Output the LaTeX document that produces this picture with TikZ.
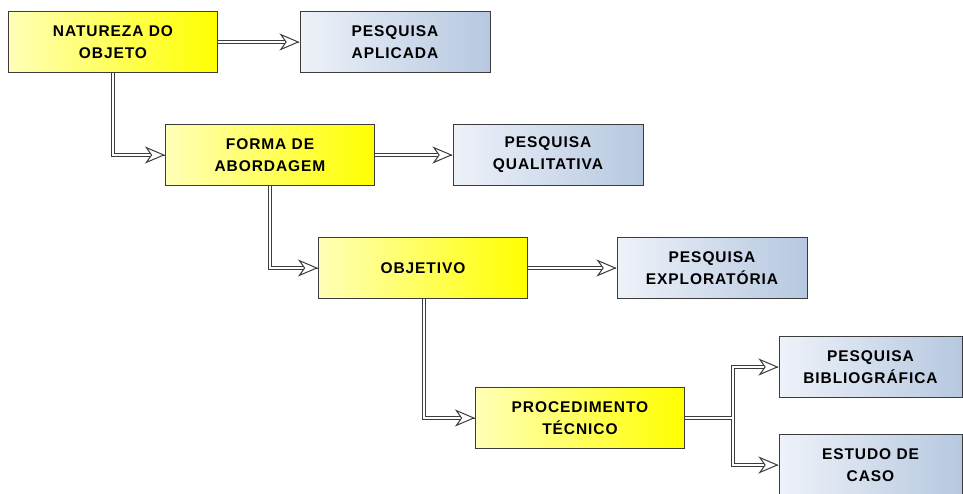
\documentclass[tikz,border=0pt]{standalone}
\usepackage{fontspec}
\setmainfont{Liberation Sans}[LetterSpace=6]
\usetikzlibrary{arrows.meta,calc,positioning}
\definecolor{edgegray}{HTML}{3C3C3C}
\definecolor{stagelight}{HTML}{FFFFB8}
\definecolor{stagedark}{HTML}{FFFF00}
\definecolor{typelight}{HTML}{EEF2F9}
\definecolor{typedark}{HTML}{B6C8E0}

\tikzset{
    stagebox/.style={draw=edgegray, line width=1pt, left color=stagelight, right color=stagedark,
        minimum width=209pt, minimum height=61pt, align=center, inner sep=0pt,
        font=\fontsize{15.5}{22}\selectfont\bfseries},
    typebox/.style={draw=edgegray, line width=1pt, left color=typelight, right color=typedark,
        minimum width=190pt, minimum height=61pt, align=center, inner sep=0pt,
        font=\fontsize{15.5}{22}\selectfont\bfseries},
    link/.style={draw=edgegray, line width=1pt, double=white, double distance=2pt, shorten >=13pt},
    linktip/.style={-{Stealth[length=20pt, width=17pt, inset=6pt, fill=white]}, draw=edgegray, line width=1pt}
}

\begin{document}
\begin{tikzpicture}[x=1pt,y=-1pt]
    \useasboundingbox[fill=white] (0,0) rectangle (963,493);

    % stages on the left
    \node[stagebox] (natureza) at (113,42) {NATUREZA DO\\OBJETO};
    \node[stagebox] (forma) at (270,155) {FORMA DE\\ABORDAGEM};
    \node[stagebox] (objetivo) at (423,268) {OBJETIVO};
    \node[stagebox] (procedimento) at (580,418) {PROCEDIMENTO\\TÉCNICO};

    % chosen types on the right
    \node[typebox] (aplicada) at (395,42) {PESQUISA\\APLICADA};
    \node[typebox] (qualitativa) at (548,155) {PESQUISA\\QUALITATIVA};
    \node[typebox] (exploratoria) at (712,268) {PESQUISA\\EXPLORATÓRIA};
    \node[typebox, minimum width=183pt] (bibliografica) at (870.5,367) {PESQUISA\\BIBLIOGRÁFICA};
    \node[typebox, minimum width=183pt, minimum height=62pt] (estudo) at (870.5,465) {ESTUDO DE\\CASO};

    \coordinate (split) at (733,418);

    % double connectors
    \draw[link] (natureza.east) -- (aplicada.west);
    \draw[link] (forma.east) -- (qualitativa.west);
    \draw[link] (objetivo.east) -- (exploratoria.west);
    \draw[link] (natureza.south) |- (forma.west);
    \draw[link] (forma.south) |- (objetivo.west);
    \draw[link] ([xshift=1pt]objetivo.south) |- (procedimento.west);
    \draw[link, shorten >=0pt] ([xshift=-13pt]bibliografica.west) -| (split) |- ([xshift=-13pt]estudo.west)
        (procedimento.east) -- (split);

    % open heads on top of the double lines
    \foreach \target in {aplicada,qualitativa,exploratoria,forma,objetivo,procedimento,bibliografica,estudo} {
        \draw[linktip] ([xshift=-0.5pt]\target.west) -- (\target.west);
    }
\end{tikzpicture}
\end{document}
